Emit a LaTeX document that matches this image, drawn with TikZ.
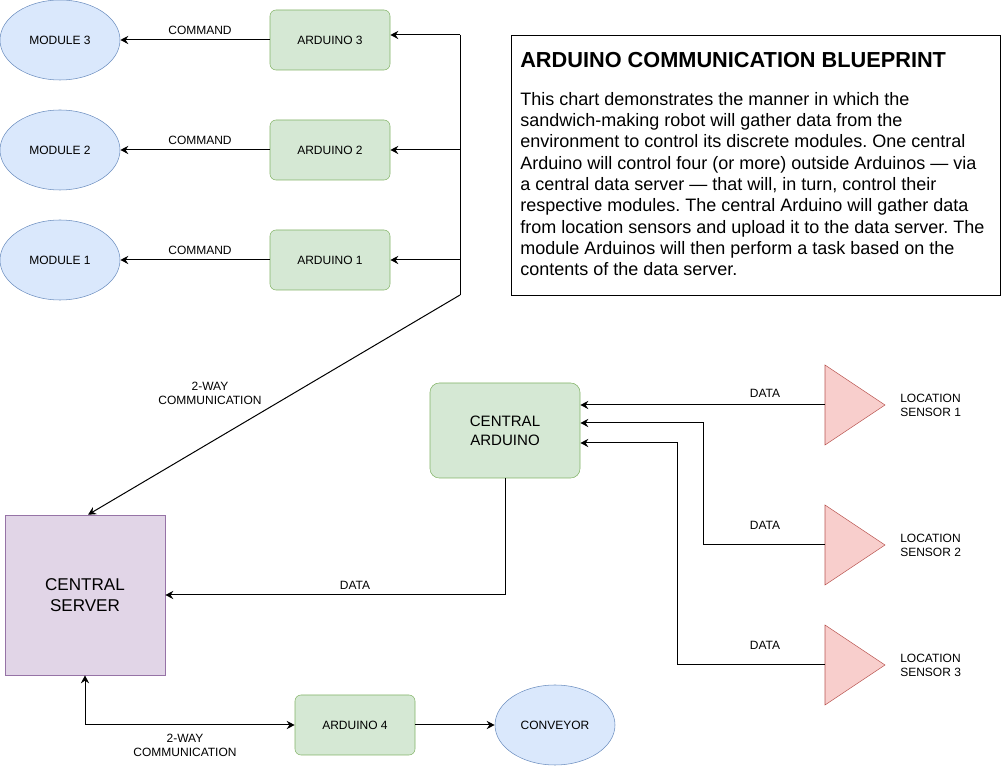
\documentclass[tikz,border=0pt]{standalone}
\usepackage{fontspec}
\setmainfont{Liberation Sans}
\usetikzlibrary{shapes.geometric,arrows.meta}
\definecolor{bluef}{HTML}{DAE8FC}
\definecolor{blued}{HTML}{6C8EBF}
\definecolor{greenf}{HTML}{D5E8D4}
\definecolor{greend}{HTML}{82B366}
\definecolor{purplef}{HTML}{E1D5E7}
\definecolor{purpled}{HTML}{9673A6}
\definecolor{redf}{HTML}{F8CECC}
\definecolor{redd}{HTML}{B85450}
\frenchspacing
\tikzset{
  module/.style={ellipse, draw=blued, fill=bluef, minimum width=90pt, minimum height=60pt, inner sep=0pt, font=\fontsize{9}{10.5}\selectfont},
  ardbox/.style={rectangle, rounded corners=4.5pt, draw=greend, fill=greenf, minimum width=90pt, minimum height=45pt, inner sep=0pt, font=\fontsize{9}{10.5}\selectfont, align=center},
  centralard/.style={rectangle, rounded corners=7pt, draw=greend, fill=greenf, minimum width=112.5pt, minimum height=71.25pt, inner sep=0pt, font=\fontsize{11.3}{14.25}\selectfont, align=center},
  serverbox/.style={rectangle, draw=purpled, fill=purplef, minimum width=120pt, minimum height=120pt, inner sep=0pt, font=\fontsize{12.8}{15.75}\selectfont, align=center},
  sensor/.style={isosceles triangle, isosceles triangle stretches, minimum width=60pt, minimum height=45pt, inner sep=0pt, outer sep=0pt, draw=redd, fill=redf, anchor=lower side},
  lbl/.style={font=\fontsize{9}{10.5}\selectfont, align=center, inner sep=0pt},
  sensorlbl/.style={font=\fontsize{9}{10.5}\selectfont, align=left, inner sep=0pt, anchor=west},
  arr/.style={draw=black, line width=0.75pt, -{Stealth[length=6pt,width=6pt,inset=2pt]}},
  biarr/.style={draw=black, line width=0.75pt, {Stealth[length=6pt,width=6pt,inset=2pt]}-{Stealth[length=6pt,width=6pt,inset=2pt]}},
  plain/.style={draw=black, line width=0.75pt},
}
\begin{document}
\begin{tikzpicture}[x=0.75pt,y=-0.75pt]
\useasboundingbox (0,0) rectangle (1001,766);

% modules
\node[module] (m3) at (60,40) {MODULE 3};
\node[module] (m2) at (60,150) {MODULE 2};
\node[module] (m1) at (60,260) {MODULE 1};

% arduinos
\node[ardbox] (a3) at (330,40) {ARDUINO 3};
\node[ardbox] (a2) at (330,150) {ARDUINO 2};
\node[ardbox] (a1) at (330,260) {ARDUINO 1};

% command arrows
\draw[arr] (a3.west) -- (m3.east);
\draw[arr] (a2.west) -- (m2.east);
\draw[arr] (a1.west) -- (m1.east);
\node[lbl] (c3) at (200,30) {COMMAND};
\node[lbl] (c2) at (200,140) {COMMAND};
\node[lbl] (c1) at (200,250) {COMMAND};

% bus
\coordinate (bt) at (460,35);
\coordinate (bb) at (460,295);
\draw[plain] (bt) -- (bb);
\draw[arr] (bt) -- (bt -| a3.east);
\draw[arr] (bt |- a2.east) -- (a2.east);
\draw[arr] (bt |- a1.east) -- (a1.east);

% central server
\node[serverbox] (srv) at (85,595) {CENTRAL\\SERVER};
\draw[arr] (bb) -- ([xshift=2.25pt]srv.north);
\node[lbl] (w1) at (210,393) {2-WAY\\COMMUNICATION};

% central arduino
\node[centralard] (ca) at (505,430.5) {CENTRAL\\ARDUINO};
\draw[arr] (ca.south) |- (srv.east);
\node[lbl] (d0) at (355,585) {DATA};

% sensors
\node[sensor] (s1) at (825,405) {};
\node[sensor] (s2) at (825,545) {};
\node[sensor] (s3) at (825,665) {};
\node[sensorlbl] (l1) at (900,405) {LOCATION\\SENSOR 1};
\node[sensorlbl] (l2) at (900,545) {LOCATION\\SENSOR 2};
\node[sensorlbl] (l3) at (900,665) {LOCATION\\SENSOR 3};

\coordinate (j2) at (703,423);
\coordinate (j3) at (677,443);
\draw[arr] (s1.lower side) -- (s1.lower side -| ca.east);
\draw[arr] (s2.lower side) -| (j2) -- (j2 -| ca.east);
\draw[arr] (s3.lower side) -| (j3) -- (j3 -| ca.east);
\node[lbl] (d1) at (765,393) {DATA};
\node[lbl] (d2) at (765,525) {DATA};
\node[lbl] (d3) at (765,645) {DATA};

% arduino 4 and conveyor
\node[ardbox] (a4) at (355,725) {ARDUINO 4};
\node[module] (conv) at (555,725) {CONVEYOR};
\draw[biarr] (srv.south) |- (a4.west);
\draw[arr] (a4.east) -- (conv.west);
\node[lbl] (w2) at (185,745) {2-WAY\\COMMUNICATION};

% text box
\node[draw=black, line width=0.75pt, rectangle, minimum width=366.75pt, minimum height=195pt, inner sep=0pt, anchor=north west] (tb) at (510.5,35) {};
\node[anchor=west, inner sep=0pt, font=\bfseries\fontsize{16.3}{19}\selectfont] (tt) at (520,60) {ARDUINO COMMUNICATION BLUEPRINT};
\node[anchor=north west, inner sep=0pt, align=left, font=\fontsize{13.5}{16}\selectfont] (tx) at (520,92) {This chart demonstrates the manner in which the\\
sandwich-making robot will gather data from the\\
environment to control its discrete modules. One central\\
Arduino will control four (or more) outside Arduinos — via\\
a central data server — that will, in turn, control their\\
respective modules. The central Arduino will gather data\\
from location sensors and upload it to the data server. The\\
module Arduinos will then perform a task based on the\\
contents of the data server.};
\end{tikzpicture}
\end{document}
